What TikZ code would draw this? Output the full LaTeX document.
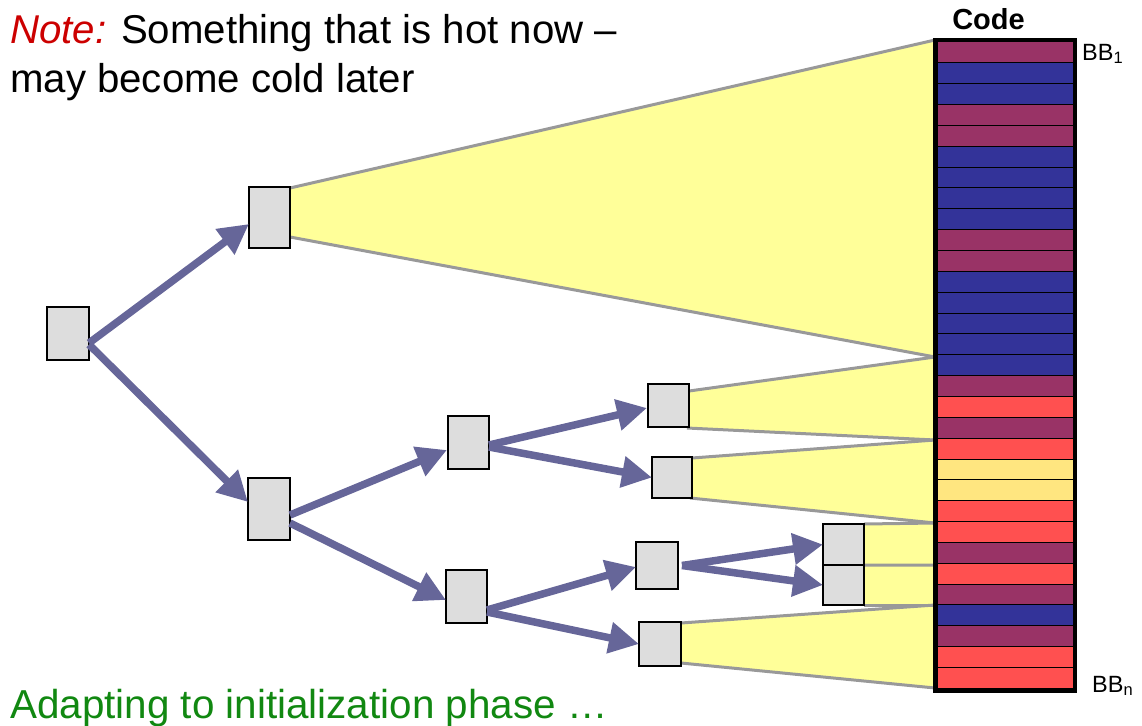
\documentclass[tikz,border=0pt]{standalone}
\usepackage{fontspec}
\setmainfont{Liberation Sans}
\usetikzlibrary{arrows.meta,calc}

\definecolor{boxgray}{HTML}{DDDDDD}
\definecolor{arrowc}{HTML}{666699}
\definecolor{fanfill}{HTML}{FFFF99}
\definecolor{fanline}{HTML}{999999}
\definecolor{cP}{HTML}{993366}
\definecolor{cB}{HTML}{333399}
\definecolor{cR}{HTML}{FF5050}
\definecolor{cY}{HTML}{FFE680}
\definecolor{notered}{HTML}{CC0000}
\definecolor{phasegreen}{HTML}{118811}

\tikzset{
  blk/.style={draw=black, line width=1.5pt, fill=boxgray, inner sep=0pt, outer sep=0pt},
  flow/.style={draw=arrowc, line width=7.5pt, -{Triangle[length=30pt,width=30pt]}},
  fan/.style={fill=fanfill},
  fanedge/.style={draw=fanline, line width=3pt},
  stripe/.style={draw=black, line width=1pt},
}

\begin{document}
\begin{tikzpicture}[x=1pt, y=-1pt]
\useasboundingbox (0,0) rectangle (1142,725);

% blocks of the control-flow tree
\node[blk, minimum width=42pt, minimum height=53pt] (n0)  at (68,333.5)  {};
\node[blk, minimum width=41pt, minimum height=61pt] (n1)  at (269.5,217.5) {};
\node[blk, minimum width=42pt, minimum height=62pt] (n2)  at (269,509)   {};
\node[blk, minimum width=41pt, minimum height=53pt] (n3)  at (468.5,442.5) {};
\node[blk, minimum width=41pt, minimum height=43pt] (n4)  at (668.5,405.5) {};
\node[blk, minimum width=40pt, minimum height=41pt] (n5)  at (672,477.5) {};
\node[blk, minimum width=41pt, minimum height=53pt] (n6)  at (466.5,596.5) {};
\node[blk, minimum width=42pt, minimum height=47pt] (n7)  at (657,565.5) {};
\node[blk, minimum width=42pt, minimum height=44pt] (n8)  at (660,644)   {};
\node[blk, minimum width=41pt, minimum height=41pt] (n9)  at (843.5,544.5) {};
\node[blk, minimum width=41pt, minimum height=40pt] (n10) at (843.5,585) {};

% points on the left side of the code column
\coordinate (k0)  at (935,40);
\coordinate (k15) at (935,357);
\coordinate (k19) at (935,440);
\coordinate (k23) at (935,523);
\coordinate (k25) at (935,565);
\coordinate (k27) at (935,605);
\coordinate (k31) at (935,688);

% points where the fans leave the blocks
\coordinate (f1a)  at ($(n1.north east)+(0,1)$);
\coordinate (f1b)  at ($(n1.south east)+(0,-11)$);
\coordinate (f4a)  at ($(n4.north east)+(0,7)$);
\coordinate (f4b)  at ($(n4.south east)+(-2,1)$);
\coordinate (f5a)  at ($(n5.north east)+(0,1)$);
\coordinate (f5b)  at ($(n5.south east)+(-2,0)$);
\coordinate (f9a)  at (n9.north east);
\coordinate (f9b)  at (n9.south east);
\coordinate (f10a) at (n10.north east);
\coordinate (f10b) at (n10.south east);
\coordinate (f8a)  at ($(n8.north east)+(0,1)$);
\coordinate (f8b)  at ($(n8.south east)+(0,-3)$);

% fans mapping each block to its code range
\fill[fan] (f1a) -- (k0) -- (k15) -- (f1b) -- cycle;
\fill[fan] (f4a) -- (k15) -- (k19) -- (f4b) -- cycle;
\fill[fan] (f5a) -- (k19) -- (k23) -- (f5b) -- cycle;
\fill[fan] (f9a) -- (k23) -- (k25) -- (f9b) -- cycle;
\fill[fan] (f10a) -- (k25) -- (k27) -- (f10b) -- cycle;
\fill[fan] (f8a) -- (k27) -- (k31) -- (f8b) -- cycle;
\draw[fanedge] (f1a) -- (k0)  (f1b) -- (k15);
\draw[fanedge] (f4a) -- (k15) (f4b) -- (k19);
\draw[fanedge] (f5a) -- (k19) (f5b) -- (k23);
\draw[fanedge] (f9a) -- (k23) (f9b) -- (k25);
\draw[fanedge] (f10b) -- (k27);
\draw[fanedge] (f8a) -- (k27) (f8b) -- (k31);

% redraw the blocks above the fans
\foreach \n in {n1,n4,n5,n8,n9,n10} {
  \draw[blk] (\n.north west) rectangle (\n.south east);
}

% control-flow edges
\draw[flow] ($(n0.east)+(0,9.5)$) -- ($(n1.west)+(0,6.5)$);
\draw[flow] ($(n0.east)+(0,11)$)  -- ($(n2.west)+(0,-7)$);
\draw[flow] ($(n2.east)+(0,6)$)   -- ($(n3.west)+(-1,7.5)$);
\draw[flow] ($(n2.east)+(0,14)$)  -- ($(n6.west)+(0,3.5)$);
\draw[flow] ($(n3.east)+(0,2.5)$) -- ($(n4.west)+(-1,2.5)$);
\draw[flow] ($(n3.east)+(0,4.5)$) -- (n5.west);
\draw[flow] ($(n6.east)+(0,13.5)$) -- ($(n7.west)+(0,1.5)$);
\draw[flow] ($(n6.east)+(0,15.5)$) -- (n8.west);
\draw[flow] ($(n7.east)+(4,0)$) -- (n9.west);
\draw[flow] ($(n7.east)+(4,0)$) -- (n10.west);

% code column of basic blocks
\foreach \c [count=\i from 0] in {P,B,B,P,P,B,B,B,B,P,P,B,B,B,B,B,P,R,P,R,Y,Y,R,R,P,R,P,B,P,R,R} {
  \filldraw[stripe, fill=c\c] (937,{42+20.85*\i}) rectangle (1073,{42+20.85*(\i+1)});
}
\node[draw=black, line width=4pt, minimum width=140pt, minimum height=650.5pt,
      inner sep=0pt, outer sep=0pt] (code) at (1005,365.25) {};

% labels
\node[anchor=base, inner sep=0pt, font=\fontsize{29}{32}\selectfont\bfseries] (codelbl) at (988.5,30) {Code};
\node[anchor=base west, inner sep=0pt, font=\fontsize{23.5}{26}\selectfont] (bb1) at (1082,60) {BB\textsubscript{1}};
\node[anchor=base west, inner sep=0pt, font=\fontsize{23.5}{26}\selectfont] (bbn) at (1092,692) {BB\textsubscript{n}};

\node[anchor=north west, align=left, inner sep=0pt, font=\fontsize{40.2}{48.4}\selectfont] (note) at (10,14.3)
  {\textcolor{notered}{\itshape Note:} Something that is hot now \textendash\\may become cold later};
\node[anchor=base west, inner sep=0pt, text=phasegreen, font=\fontsize{40.4}{45}\selectfont] (phase) at (10,718)
  {Adapting to initialization phase …};
\end{tikzpicture}
\end{document}
